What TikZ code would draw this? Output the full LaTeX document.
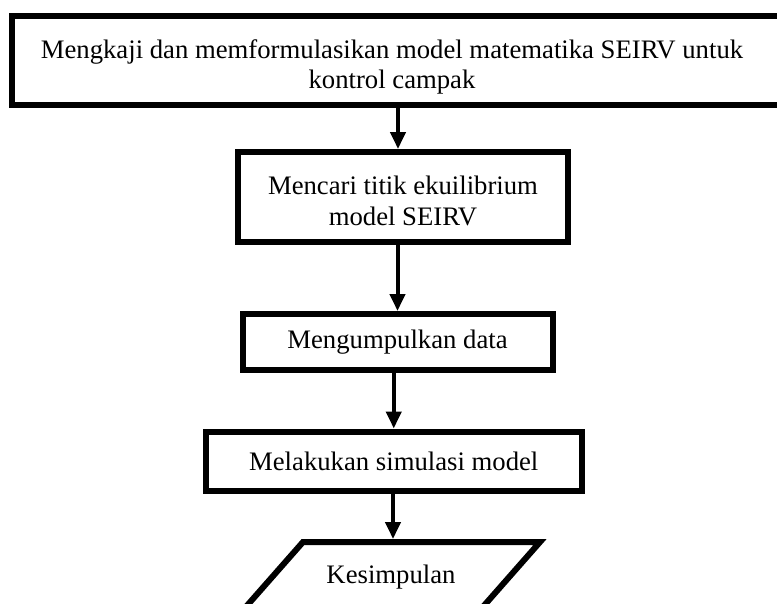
\documentclass[tikz,border=0pt]{standalone}
\usepackage{fontspec}
\setmainfont{Liberation Serif}
\usetikzlibrary{arrows.meta, positioning}

\begin{document}
\begin{tikzpicture}[
    x=1pt, y=-1pt,
    every node/.style={font=\fontsize{26.7}{30.7}\selectfont},
    kotak/.style={draw, rectangle, line width=6pt, inner sep=0pt, align=center},
    panah/.style={line width=4pt, -{Triangle[length=17pt, width=15pt]}}
]

\useasboundingbox (0,0) rectangle (777,603);
\clip (0,0) rectangle (777,603);

% ------------------------------------------------
% Kotak-kotak proses
% ------------------------------------------------

\node[
    kotak,
    minimum width=778pt,
    minimum height=89pt
] (kaji) at (401,60.5)
{};

\node[
    align=center
] (kajiteks) at (392,67)
{Mengkaji dan memformulasikan model matematika SEIRV untuk\\
kontrol campak};

\node[
    kotak,
    minimum width=330pt,
    minimum height=90pt
] (ekuilibrium) at (403,197)
{\rule{0pt}{27pt}Mencari titik ekuilibrium\\ model SEIRV};

\node[
    kotak,
    minimum width=310pt,
    minimum height=56pt
] (data) at (397.5,342)
{Mengumpulkan data};

\node[
    kotak,
    minimum width=375.5pt,
    minimum height=59pt
] (simulasi) at (393.75,461)
{\rule{0pt}{20pt}Melakukan simulasi model};

% ------------------------------------------------
% Kesimpulan (jajaran genjang)
% ------------------------------------------------

\draw[line width=6pt]
    (303,542) -- (540,542) -- (481.9,608) -- (244.9,608) -- cycle;

\node (kesimpulan) at (391,577)
{Kesimpulan};

\coordinate (puncak) at (393,539);

% ------------------------------------------------
% Panah
% ------------------------------------------------

\coordinate (masuk) at ([xshift=-5pt]ekuilibrium.north);

\draw[panah] (masuk |- kaji.south) -- (masuk);
\draw[panah] (ekuilibrium.south -| data.north) -- (data.north);
\draw[panah] (data.south -| simulasi.north) -- (simulasi.north);
\draw[panah] (simulasi.south -| puncak) -- (puncak);

\end{tikzpicture}
\end{document}
